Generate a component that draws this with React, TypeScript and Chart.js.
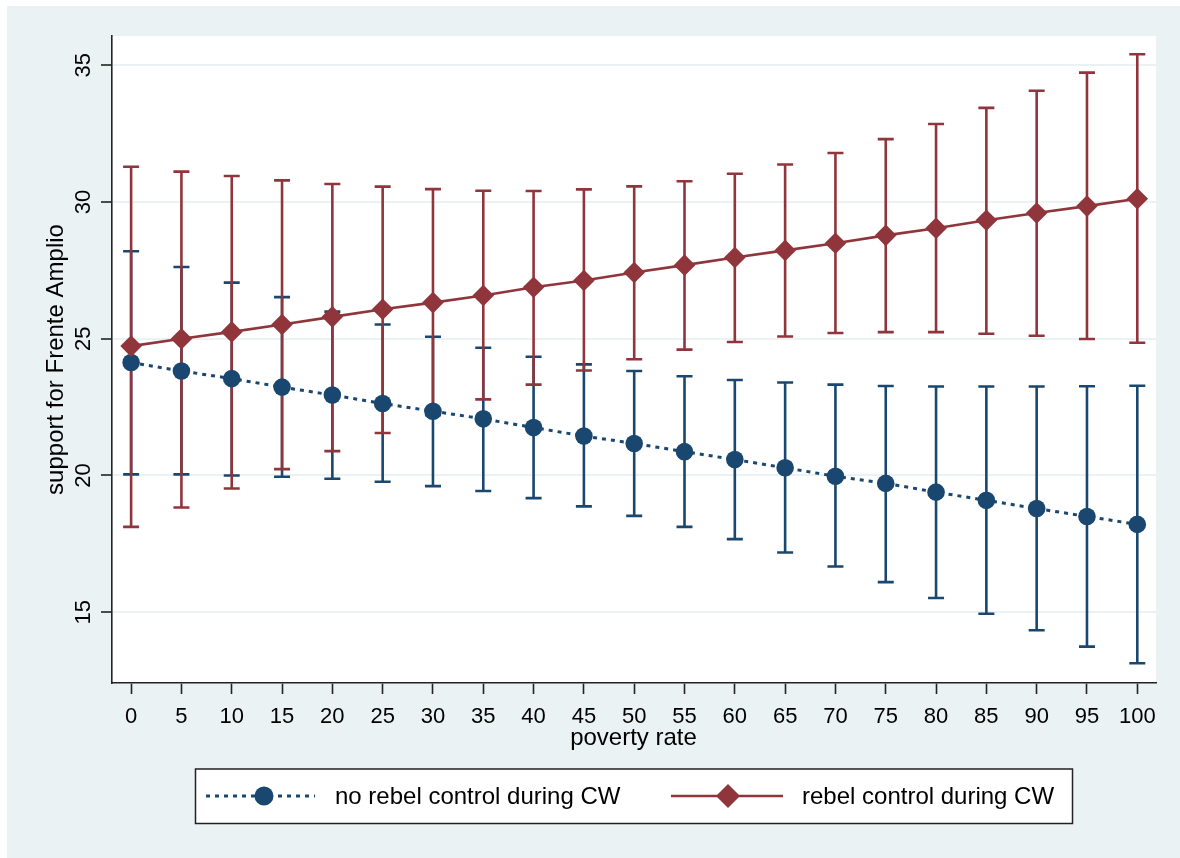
import React, { useEffect, useRef } from "react";
import { Chart, registerables } from "chart.js";

Chart.register(...registerables);

// ---- data ----
const POVERTY_RATE = [0, 5, 10, 15, 20, 25, 30, 35, 40, 45, 50, 55, 60, 65, 70, 75, 80, 85, 90, 95, 100];

const NO_REBEL_MEAN = [24.13, 23.82, 23.54, 23.23, 22.94, 22.63, 22.35, 22.07, 21.75, 21.44, 21.17, 20.87, 20.58, 20.28, 19.97, 19.71, 19.39, 19.09, 18.79, 18.5, 18.21];
const NO_REBEL_HI = [28.2, 27.62, 27.05, 26.52, 25.99, 25.52, 25.07, 24.67, 24.34, 24.06, 23.82, 23.63, 23.49, 23.4, 23.32, 23.27, 23.25, 23.25, 23.25, 23.26, 23.28];
const NO_REBEL_LO = [20.04, 20.04, 20.0, 19.95, 19.88, 19.77, 19.61, 19.43, 19.17, 18.87, 18.52, 18.12, 17.67, 17.18, 16.67, 16.1, 15.52, 14.94, 14.34, 13.74, 13.13];

const REBEL_MEAN = [24.73, 25.0, 25.25, 25.52, 25.8, 26.08, 26.32, 26.58, 26.88, 27.13, 27.42, 27.69, 27.97, 28.23, 28.49, 28.78, 29.04, 29.33, 29.6, 29.85, 30.12];
const REBEL_HI = [31.29, 31.11, 30.95, 30.79, 30.66, 30.56, 30.47, 30.41, 30.4, 30.46, 30.57, 30.76, 31.03, 31.37, 31.79, 32.3, 32.85, 33.44, 34.07, 34.73, 35.4];
const REBEL_LO = [18.12, 18.83, 19.52, 20.23, 20.89, 21.55, 22.2, 22.78, 23.32, 23.84, 24.25, 24.6, 24.88, 25.08, 25.21, 25.24, 25.24, 25.18, 25.11, 24.99, 24.85];

const X_TICKS = [0, 5, 10, 15, 20, 25, 30, 35, 40, 45, 50, 55, 60, 65, 70, 75, 80, 85, 90, 95, 100];
const Y_TICKS = [15, 20, 25, 30, 35];

const SERIES_LABELS = ["no rebel control during CW", "rebel control during CW"];
const X_TITLE = "poverty rate";
const Y_TITLE = "support for Frente Amplio";

// ---- styles ----
const NAVY = "#1A476F";
const MAROON = "#90353B";
const BG = "#EAF2F3";
const AXIS = "#222222";
const FONT = "'Liberation Sans', Arial, sans-serif";

function drawDiamond(ctx: CanvasRenderingContext2D, x: number, y: number, r: number) {
  ctx.beginPath();
  ctx.moveTo(x, y - r);
  ctx.lineTo(x + r, y);
  ctx.lineTo(x, y + r);
  ctx.lineTo(x - r, y);
  ctx.closePath();
  ctx.fill();
}

export default function App() {
  const ref = useRef<HTMLCanvasElement>(null);

  useEffect(() => {
    const canvas = ref.current;
    if (!canvas) return;

    const decor = {
      id: "stataDecor",
      beforeDraw(chart: any) {
        const { ctx, chartArea: a } = chart;
        ctx.save();
        ctx.fillStyle = "#ffffff";
        ctx.fillRect(0, 0, chart.width, chart.height);
        ctx.fillStyle = BG;
        ctx.fillRect(7, 6, chart.width - 7, chart.height - 6);
        ctx.fillStyle = "#ffffff";
        ctx.fillRect(a.left, a.top, a.right - a.left, a.bottom - a.top);
        ctx.restore();
      },
      beforeDatasetsDraw(chart: any) {
        const { ctx } = chart;
        const xs = chart.scales.x;
        const ys = chart.scales.y;
        const groups = [
          { lo: NO_REBEL_LO, hi: NO_REBEL_HI, color: NAVY },
          { lo: REBEL_LO, hi: REBEL_HI, color: MAROON },
        ];
        const cap = 8;
        ctx.save();
        ctx.lineWidth = 2.6;
        ctx.lineCap = "butt";
        for (const g of groups) {
          ctx.strokeStyle = g.color;
          for (let i = 0; i < POVERTY_RATE.length; i++) {
            const px = xs.getPixelForValue(POVERTY_RATE[i]);
            const y1 = ys.getPixelForValue(g.lo[i]);
            const y2 = ys.getPixelForValue(g.hi[i]);
            ctx.beginPath();
            ctx.moveTo(px, y1);
            ctx.lineTo(px, y2);
            ctx.moveTo(px - cap, y1);
            ctx.lineTo(px + cap, y1);
            ctx.moveTo(px - cap, y2);
            ctx.lineTo(px + cap, y2);
            ctx.stroke();
          }
        }
        ctx.restore();
      },
      afterDraw(chart: any) {
        const { ctx, chartArea: a } = chart;
        const xs = chart.scales.x;
        const ys = chart.scales.y;
        ctx.save();
        ctx.fillStyle = "#000000";

        // x tick labels
        ctx.font = `22px ${FONT}`;
        ctx.textAlign = "center";
        ctx.textBaseline = "alphabetic";
        for (const v of X_TICKS) {
          ctx.fillText(String(v), xs.getPixelForValue(v), 723);
        }
        // y tick labels (rotated)
        for (const v of Y_TICKS) {
          const py = ys.getPixelForValue(v);
          ctx.save();
          ctx.translate(90, py);
          ctx.rotate(-Math.PI / 2);
          ctx.fillText(String(v), 0, 0);
          ctx.restore();
        }
        // axis titles
        ctx.font = `24px ${FONT}`;
        ctx.fillText(X_TITLE, (a.left + a.right) / 2 - 0.5, 745);
        ctx.save();
        ctx.translate(63, (a.top + a.bottom) / 2);
        ctx.rotate(-Math.PI / 2);
        ctx.fillText(Y_TITLE, 0, 0);
        ctx.restore();

        // legend box
        const lx = 195.5, ly = 769, lw = 877, lh = 54.5;
        ctx.fillStyle = "#ffffff";
        ctx.fillRect(lx, ly, lw, lh);
        ctx.strokeStyle = AXIS;
        ctx.lineWidth = 1.5;
        ctx.strokeRect(lx, ly, lw, lh);
        const cy = 796;
        // series 1
        ctx.strokeStyle = NAVY;
        ctx.lineWidth = 3;
        ctx.setLineDash([4, 5]);
        ctx.beginPath();
        ctx.moveTo(206, cy);
        ctx.lineTo(315, cy);
        ctx.stroke();
        ctx.setLineDash([]);
        ctx.fillStyle = NAVY;
        ctx.beginPath();
        ctx.arc(264, cy, 9.5, 0, Math.PI * 2);
        ctx.fill();
        // series 2
        ctx.strokeStyle = MAROON;
        ctx.lineWidth = 2.6;
        ctx.beginPath();
        ctx.moveTo(671, cy);
        ctx.lineTo(783, cy);
        ctx.stroke();
        ctx.fillStyle = MAROON;
        drawDiamond(ctx, 728, cy, 12);
        // texts
        ctx.fillStyle = "#000000";
        ctx.font = `24px ${FONT}`;
        ctx.textAlign = "left";
        ctx.fillText(SERIES_LABELS[0], 335, 804);
        ctx.fillText(SERIES_LABELS[1], 802, 804);
        ctx.restore();
      },
    };

    const chart = new Chart(canvas, {
      type: "line",
      data: {
        datasets: [
          {
            label: SERIES_LABELS[0],
            data: POVERTY_RATE.map((x, i) => ({ x, y: NO_REBEL_MEAN[i] })),
            borderColor: NAVY,
            backgroundColor: NAVY,
            borderWidth: 3,
            borderDash: [4, 5],
            pointStyle: "circle",
            pointRadius: 8.8,
            pointBackgroundColor: NAVY,
            pointBorderColor: NAVY,
            pointBorderWidth: 0,
            tension: 0,
            order: 2,
          },
          {
            label: SERIES_LABELS[1],
            data: POVERTY_RATE.map((x, i) => ({ x, y: REBEL_MEAN[i] })),
            borderColor: MAROON,
            backgroundColor: MAROON,
            borderWidth: 2.6,
            pointStyle: "rectRot",
            pointRadius: 10.8,
            pointBackgroundColor: MAROON,
            pointBorderColor: MAROON,
            pointBorderWidth: 0,
            tension: 0,
            order: 1,
          },
        ],
      },
      options: {
        responsive: false,
        animation: false,
        devicePixelRatio: 1,
        layout: { padding: { left: 0, top: 36, right: 24, bottom: 0 } },
        plugins: {
          legend: { display: false },
          tooltip: { enabled: false },
          title: { display: false },
        },
        scales: {
          x: {
            type: "linear",
            min: -1.9,
            max: 101.86,
            afterBuildTicks: (s: any) => {
              s.ticks = X_TICKS.map((v) => ({ value: v }));
            },
            afterFit: (s: any) => {
              s.height = 175;
            },
            ticks: { display: false },
            grid: {
              drawOnChartArea: false,
              drawTicks: true,
              tickLength: 11,
              tickColor: AXIS,
              tickWidth: 1.6,
            },
            border: { display: true, color: AXIS, width: 1.6 },
          },
          y: {
            type: "linear",
            min: 12.41,
            max: 36.07,
            afterBuildTicks: (s: any) => {
              s.ticks = Y_TICKS.map((v) => ({ value: v }));
            },
            afterFit: (s: any) => {
              s.width = 112;
            },
            ticks: { display: false },
            grid: {
              color: BG,
              lineWidth: 2,
              drawTicks: true,
              tickLength: 11,
              tickColor: AXIS,
              tickWidth: 1.6,
            },
            border: { display: true, color: AXIS, width: 1.6 },
          },
        },
      },
      plugins: [decor],
    } as any);

    return () => chart.destroy();
  }, []);

  return (
    <div style={{ position: "absolute", left: 0, top: 0, width: 1180, height: 858 }}>
      <canvas ref={ref} width={1180} height={858} style={{ display: "block" }} />
    </div>
  );
}
